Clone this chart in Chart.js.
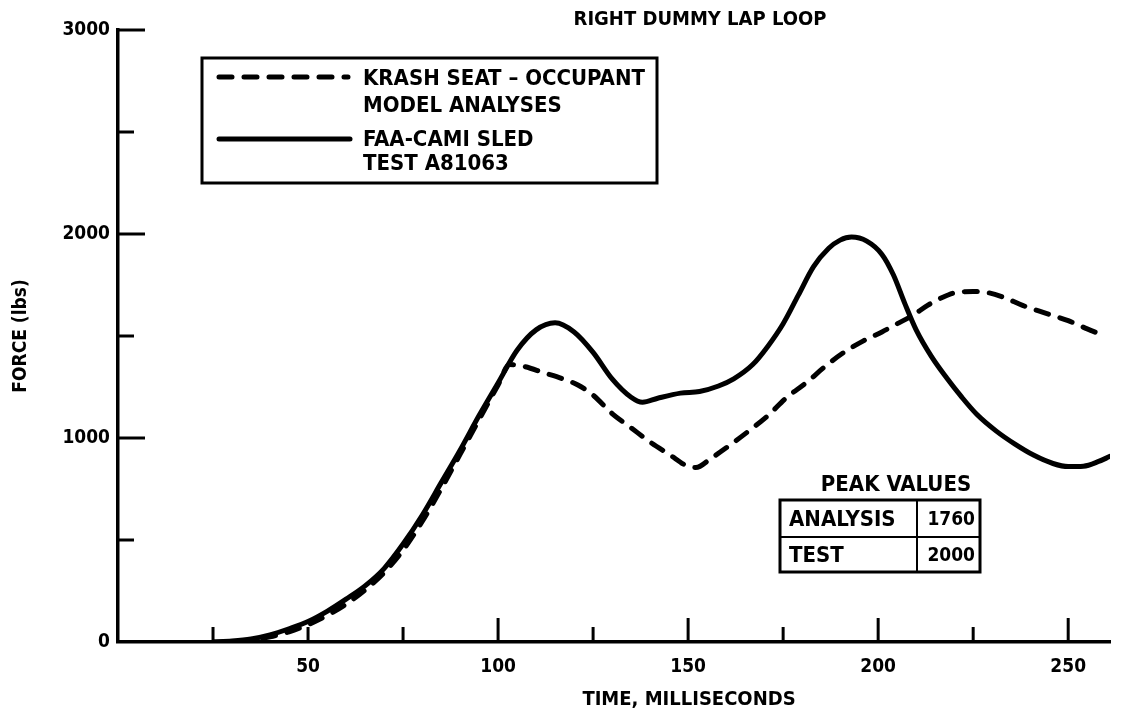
<!DOCTYPE html>
<html>
<head>
<meta charset="utf-8">
<script src="https://cdn.jsdelivr.net/npm/chart.js@4.4.1/dist/chart.umd.min.js"></script>
<style>
  body { margin: 0; background: #fff; }
  #wrap { width: 1132px; height: 720px; }
</style>
</head>
<body>
<div id="wrap"><canvas id="myChart" width="1132" height="720"></canvas></div>
<script>
// time (ms) and force (lbs)
var testTime = [25, 30, 35, 40, 45, 50, 55, 60, 65, 70, 75, 80, 85, 90, 95, 100, 105, 110, 115, 120, 125, 130, 135, 138, 142, 148, 153, 158, 162, 167, 171, 175, 179, 183, 187, 190, 193, 197, 201, 204, 207, 210, 214, 218, 222, 226, 231, 236, 241, 246, 250, 254, 258, 261];
var testForce = [0, 5, 15, 35, 65, 100, 150, 210, 275, 360, 480, 620, 780, 940, 1110, 1270, 1430, 1530, 1565, 1520, 1420, 1290, 1200, 1175, 1195, 1220, 1228, 1255, 1290, 1360, 1450, 1560, 1700, 1840, 1930, 1970, 1985, 1965, 1900, 1800, 1660, 1530, 1400, 1295, 1200, 1115, 1035, 970, 915, 875, 860, 862, 885, 910];

var analysisTime = [25, 30, 35, 40, 45, 50, 55, 60, 65, 70, 75, 80, 85, 90, 95, 100, 103, 107, 112, 117, 121, 125, 130, 135, 140, 145, 150, 152, 156, 161, 166, 171, 176, 181, 186, 191, 196, 201, 205, 209, 213, 217, 221, 225, 229, 233, 238, 244, 250, 255, 259];
var analysisForce = [0, 2, 8, 25, 50, 85, 130, 185, 255, 340, 450, 590, 750, 920, 1090, 1260, 1360, 1350, 1320, 1290, 1260, 1210, 1120, 1050, 980, 920, 860, 855, 900, 965, 1035, 1110, 1200, 1270, 1350, 1420, 1475, 1520, 1560, 1600, 1650, 1690, 1715, 1718, 1712, 1690, 1650, 1612, 1575, 1535, 1505];

var xTickLabels = [50, 100, 150, 200, 250];
var yTickLabels = [0, 1000, 2000, 3000];
var xTickMarks = [25, 50, 75, 100, 125, 150, 175, 200, 225, 250];
var yTickMarks = [500, 1000, 1500, 2000, 2500, 3000];

var chartTitle = "RIGHT DUMMY LAP LOOP";
var xTitle = "TIME, MILLISECONDS";
var yTitle = "FORCE (lbs)";
var legendAnalysis = ["KRASH SEAT \u2013 OCCUPANT", "MODEL ANALYSES"];
var legendTest = ["FAA-CAMI SLED", "TEST A81063"];
var peakNames = ["ANALYSIS", "TEST"];
var peakValues = [1760, 2000];

var FONT = '"DejaVu Sans Condensed", "DejaVu Sans", sans-serif';

function pts(t, f) {
  return t.map(function (v, i) { return { x: v, y: f[i] }; });
}

const decor = {
  id: 'decor',
  afterDraw(chart) {
    const ctx = chart.ctx;
    const x = chart.scales.x, y = chart.scales.y;
    ctx.save();
    ctx.strokeStyle = '#000';
    ctx.fillStyle = '#000';
    ctx.lineCap = 'butt';

    // inward tick marks
    ctx.lineWidth = 3;
    xTickMarks.forEach(v => {
      const px = x.getPixelForValue(v);
      const len = (v % 50 === 0 && v >= 100) ? 24 : 15;
      ctx.beginPath();
      ctx.moveTo(px, y.bottom);
      ctx.lineTo(px, y.bottom - len);
      ctx.stroke();
    });
    yTickMarks.forEach(v => {
      const py = y.getPixelForValue(v);
      const len = (v % 1000 === 0) ? 27 : 16;
      ctx.beginPath();
      ctx.moveTo(x.left, py);
      ctx.lineTo(x.left + len, py);
      ctx.stroke();
    });

    // titles
    ctx.textAlign = 'center';
    ctx.textBaseline = 'middle';
    ctx.font = 'bold 20px ' + FONT;
    ctx.fillText(chartTitle, 700, 20);
    ctx.fillText(xTitle, 689, 700);

    // legend box
    ctx.lineWidth = 3;
    ctx.strokeRect(202, 58, 455, 125);
    ctx.lineWidth = 5;
    ctx.lineCap = 'round';
    ctx.setLineDash([13, 12]);
    ctx.beginPath(); ctx.moveTo(219, 77); ctx.lineTo(348, 77); ctx.stroke();
    ctx.setLineDash([]);
    ctx.beginPath(); ctx.moveTo(219, 139); ctx.lineTo(350, 139); ctx.stroke();
    ctx.lineCap = 'butt';
    ctx.textAlign = 'left';
    ctx.font = 'bold 22px ' + FONT;
    ctx.fillText(legendAnalysis[0], 363, 79);
    ctx.fillText(legendAnalysis[1], 363, 106);
    ctx.fillText(legendTest[0], 363, 140);
    ctx.fillText(legendTest[1], 363, 164);

    // peak values table
    ctx.textAlign = 'center';
    ctx.fillText("PEAK VALUES", 896, 485);
    ctx.lineWidth = 3;
    ctx.strokeRect(780, 500, 200, 72);
    ctx.lineWidth = 2;
    ctx.beginPath();
    ctx.moveTo(780, 537); ctx.lineTo(980, 537);
    ctx.moveTo(917, 500); ctx.lineTo(917, 572);
    ctx.stroke();
    peakNames.forEach((n, i) => {
      const cy = 520 + i * 36;
      ctx.font = 'bold 22px ' + FONT;
      ctx.textAlign = 'left';
      ctx.fillText(n, 789, cy);
      ctx.font = 'bold 19px ' + FONT;
      ctx.textAlign = 'right';
      ctx.fillText(String(peakValues[i]), 975, cy);
    });
    ctx.restore();
  }
};

var ctx = document.getElementById('myChart').getContext('2d');
var myChart = new Chart(ctx, {
  type: 'line',
  data: {
    datasets: [{
      label: 'KRASH SEAT - OCCUPANT MODEL ANALYSES',
      data: pts(analysisTime, analysisForce),
      borderColor: '#000',
      borderWidth: 5,
      borderDash: [13, 12],
      borderCapStyle: 'round',
      pointRadius: 0,
      cubicInterpolationMode: 'monotone',
      fill: false
    }, {
      label: 'FAA-CAMI SLED TEST A81063',
      data: pts(testTime, testForce),
      borderColor: '#000',
      borderWidth: 5,
      borderCapStyle: 'round',
      pointRadius: 0,
      cubicInterpolationMode: 'monotone',
      fill: false
    }]
  },
  options: {
    responsive: false,
    animation: false,
    layout: { padding: { top: 30, right: 22, left: 0, bottom: 0 } },
    plugins: {
      legend: { display: false },
      tooltip: { enabled: false }
    },
    scales: {
      x: {
        type: 'linear',
        min: 0,
        max: 261,
        afterFit: function (s) { s.height = 78; },
        afterBuildTicks: function (s) { s.ticks = xTickLabels.map(v => ({ value: v })); },
        grid: { display: false, drawTicks: false },
        border: { display: true, color: '#000', width: 3.5 },
        ticks: {
          color: '#000',
          padding: 14,
          maxRotation: 0,
          font: { family: FONT, size: 19, weight: 'bold' },
          callback: v => String(v)
        }
      },
      y: {
        min: 0,
        max: 3000,
        afterFit: function (s) { s.width = 118; },
        afterBuildTicks: function (s) { s.ticks = yTickLabels.map(v => ({ value: v })); },
        grid: { display: false, drawTicks: false },
        border: { display: true, color: '#000', width: 3.5 },
        title: {
          display: true,
          text: yTitle,
          color: '#000',
          padding: { top: 10, bottom: 0 },
          font: { family: FONT, size: 19, weight: 'bold' }
        },
        ticks: {
          color: '#000',
          padding: 8,
          font: { family: FONT, size: 19, weight: 'bold' },
          callback: v => String(v)
        }
      }
    }
  },
  plugins: [decor]
});
</script>
</body>
</html>
